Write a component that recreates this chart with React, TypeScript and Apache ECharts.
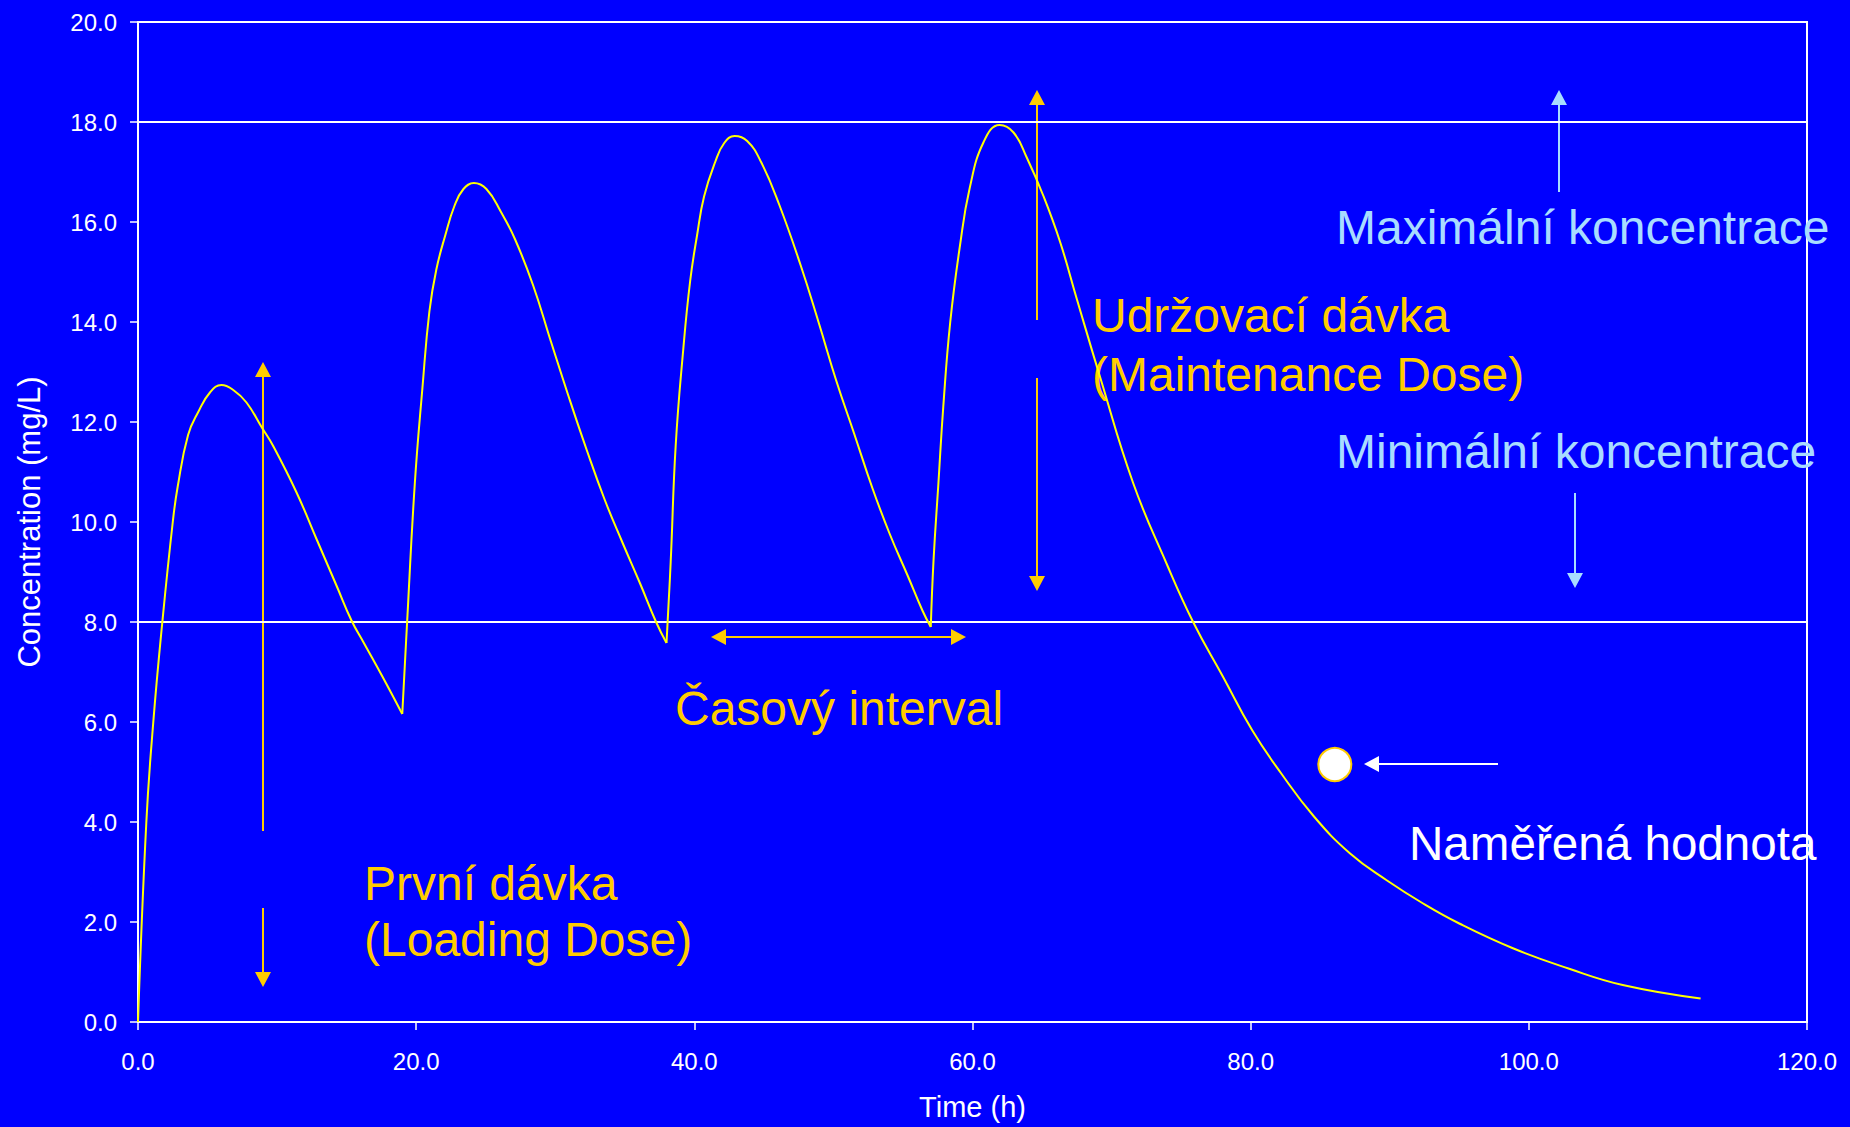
import React, { useEffect, useRef } from "react";
import * as echarts from "echarts";

// ---- Data ----
// Time (h) / Concentration (mg/L) for each dosing interval
const dose1: [number, number][] = [
  [0, 0], [0.6, 4.0], [1.1, 6.0], [1.75, 8.0], [2.5, 10.0], [2.85, 10.7], [3.6, 11.74],
  [4.35, 12.21], [5.2, 12.6], [6.0, 12.74], [6.85, 12.64], [7.8, 12.39], [8.95, 11.87],
  [9.7, 11.53], [11.4, 10.59], [12.85, 9.65], [14.3, 8.71], [15.35, 8.03], [16.2, 7.6],
  [17.65, 6.87], [19.0, 6.16],
];
const dose2: [number, number][] = [
  [19.0, 6.16], [19.35, 8.0], [19.9, 10.76], [20.45, 12.68], [20.95, 14.21], [21.45, 15.05],
  [22.1, 15.74], [22.75, 16.32], [23.4, 16.66], [24.15, 16.78], [25.05, 16.66], [26.1, 16.2],
  [27.1, 15.66], [28.4, 14.74], [29.7, 13.6], [30.95, 12.52], [32.25, 11.45], [33.55, 10.45],
  [34.8, 9.61], [36.1, 8.77], [37.25, 8.0], [38.0, 7.58],
];
const dose3: [number, number][] = [
  [38.0, 7.58], [38.3, 9.2], [38.66, 11.53], [39.2, 13.44], [39.7, 14.82], [40.2, 15.74],
  [40.7, 16.51], [41.5, 17.2], [42.15, 17.58], [42.9, 17.72], [43.8, 17.62], [44.8, 17.2],
  [46.1, 16.35], [47.65, 15.13], [48.95, 13.98], [50.2, 12.83], [51.5, 11.76], [52.8, 10.68],
  [54.05, 9.76], [55.35, 8.92], [56.4, 8.23], [57.0, 7.9],
];
const dose4: [number, number][] = [
  [57.0, 7.9], [57.2, 9.24], [57.55, 10.78], [57.9, 12.31], [58.4, 14.0], [59.1, 15.53],
  [59.8, 16.68], [60.8, 17.6], [61.95, 17.94], [62.95, 17.79], [63.9, 17.29], [65.1, 16.52],
  [66.3, 15.6], [67.5, 14.46], [69.15, 12.92], [71.55, 10.78], [73.95, 9.17], [75.9, 7.98],
  [78.0, 6.91], [80.1, 5.84], [82.2, 4.97], [84.55, 4.11], [87.15, 3.37], [89.75, 2.84],
  [92.4, 2.37], [95.0, 1.97], [98.9, 1.47], [102.85, 1.07], [106.75, 0.74], [112.35, 0.47],
];
const measured: [number, number][] = [[86.05, 5.15]];
const limitLines = [8, 18];
const xTicks = { min: 0, max: 120, interval: 20 };
const yTicks = { min: 0, max: 20, interval: 2 };

const FONT = '"Liberation Sans", Arial, Helvetica, sans-serif';
const BLUE = "#0000FF";
const CURVE = "#FFFF00";
const ORANGE = "#FFCC00";
const CYAN = "#A8DCFF";
const WHITE = "#FFFFFF";

function arrow(x1: number, y1: number, x2: number, y2: number, color: string, lw = 2) {
  const dx = x2 - x1, dy = y2 - y1;
  const len = Math.sqrt(dx * dx + dy * dy);
  const ux = dx / len, uy = dy / len;
  const hl = 15, hw = 8;
  const bx = x2 - ux * hl, by = y2 - uy * hl;
  const px = -uy, py = ux;
  return [
    { type: "line", shape: { x1, y1, x2: bx, y2: by }, style: { stroke: color, lineWidth: lw }, silent: true },
    {
      type: "polygon",
      shape: { points: [[x2, y2], [bx + px * hw, by + py * hw], [bx - px * hw, by - py * hw]] },
      style: { fill: color },
      silent: true,
    },
  ];
}

function label(text: string, x: number, y: number, color: string, size = 48) {
  return {
    type: "text",
    x,
    y,
    silent: true,
    style: { text, fill: color, fontSize: size, fontFamily: FONT, align: "left", verticalAlign: "middle" },
  };
}

export default function App() {
  const ref = useRef<HTMLDivElement>(null);

  useEffect(() => {
    if (!ref.current) return;
    const chart = echarts.init(ref.current, undefined, { renderer: "svg" });

    const lineSeries = [dose1, dose2, dose3, dose4].map((d, i) => ({
      type: "line",
      data: d,
      showSymbol: false,
      smooth: 0.45,
      lineStyle: { color: CURVE, width: 2 },
      z: 3,
      ...(i === 0
        ? {
            markLine: {
              silent: true,
              symbol: "none",
              label: { show: false },
              lineStyle: { color: WHITE, width: 2, type: "solid" },
              data: limitLines.map((v) => ({ yAxis: v })),
              z: 2,
            },
          }
        : {}),
    }));

    const graphic = [
      // Loading dose
      ...arrow(263, 831, 263, 362, ORANGE),
      ...arrow(263, 908, 263, 987, ORANGE),
      label("První dávka", 364, 883, ORANGE),
      label("(Loading Dose)", 364, 939, ORANGE),
      // Maintenance dose
      ...arrow(1037, 320, 1037, 90, ORANGE),
      ...arrow(1037, 378, 1037, 591, ORANGE),
      label("Udržovací dávka", 1092, 315, ORANGE),
      label("(Maintenance Dose)", 1092, 374, ORANGE),
      // Dosing interval
      ...arrow(840, 637, 711, 637, ORANGE),
      ...arrow(840, 637, 966, 637, ORANGE),
      label("Časový interval", 675, 708, ORANGE),
      // Max / min concentration
      ...arrow(1559, 192, 1559, 90, CYAN),
      label("Maximální koncentrace", 1336, 227, CYAN, 48),
      label("Minimální koncentrace", 1336, 451, CYAN, 48),
      ...arrow(1575, 493, 1575, 588, CYAN),
      // Measured value
      ...arrow(1498, 764, 1364, 764, WHITE),
      label("Naměřená hodnota", 1409, 843, WHITE, 47.6),
    ];

    chart.setOption({
      animation: false,
      backgroundColor: BLUE,
      textStyle: { fontFamily: FONT },
      grid: {
        left: 138,
        top: 22,
        right: 43,
        bottom: 105,
        show: true,
        borderColor: WHITE,
        borderWidth: 2,
        backgroundColor: "transparent",
      },
      xAxis: {
        type: "value",
        ...xTicks,
        name: "Time (h)",
        nameLocation: "middle",
        nameGap: 70,
        nameTextStyle: { color: WHITE, fontSize: 29, fontFamily: FONT },
        axisLine: { show: true, onZero: false, lineStyle: { color: WHITE, width: 2 } },
        axisTick: { show: true, inside: false, length: 8, lineStyle: { color: WHITE, width: 1.5 } },
        axisLabel: {
          color: WHITE,
          fontSize: 24,
          fontFamily: FONT,
          margin: 27,
          formatter: (v: number) => v.toFixed(1),
        },
        splitLine: { show: false },
      },
      yAxis: {
        type: "value",
        ...yTicks,
        name: "Concentration (mg/L)",
        nameLocation: "middle",
        nameGap: 93,
        nameTextStyle: { color: WHITE, fontSize: 31, fontFamily: FONT },
        axisLine: { show: true, onZero: false, lineStyle: { color: WHITE, width: 2 } },
        axisTick: { show: true, inside: false, length: 8, lineStyle: { color: WHITE, width: 1.5 } },
        axisLabel: {
          color: WHITE,
          fontSize: 24,
          fontFamily: FONT,
          margin: 21,
          formatter: (v: number) => v.toFixed(1),
        },
        splitLine: { show: false },
      },
      series: [
        ...lineSeries,
        {
          type: "scatter",
          data: measured,
          symbol: "circle",
          symbolSize: 33,
          itemStyle: { color: WHITE, borderColor: ORANGE, borderWidth: 2, opacity: 1 },
          z: 5,
        },
      ],
      graphic,
    });

    return () => chart.dispose();
  }, []);

  return (
    <div
      ref={ref}
      style={{ position: "absolute", left: 0, top: 0, width: 1850, height: 1127, background: BLUE }}
    />
  );
}
